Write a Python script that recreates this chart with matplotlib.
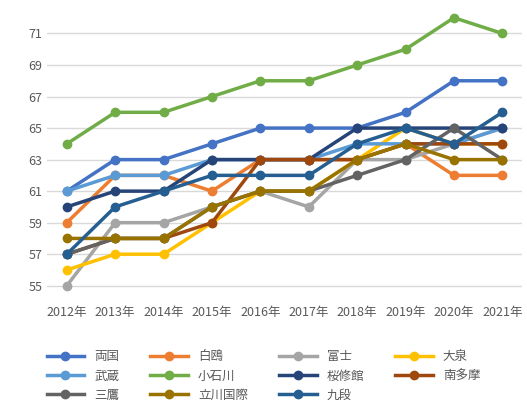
import matplotlib
matplotlib.use("Agg")
import matplotlib.pyplot as plt

plt.rcParams['font.family'] = ['Noto Sans CJK JP', 'DejaVu Sans']

years = ["2012年","2013年","2014年","2015年","2016年","2017年","2018年","2019年","2020年","2021年"]
names = ["両国","白鴎","富士","大泉","武蔵","小石川","桜修館","南多摩","三鷹","立川国際","九段"]
colors = ["#4472C4","#ED7D31","#A5A5A5","#FFC000","#5B9BD5","#70AD47","#264478","#9E480E","#636363","#997300","#255E91"]
ryogoku   = [61,63,63,64,65,65,65,66,68,68]
hakuo     = [59,62,62,61,63,63,63,64,62,62]
fuji      = [55,59,59,60,61,60,63,63,64,65]
oizumi    = [56,57,57,59,61,61,63,65,64,64]
musashi   = [61,62,62,63,63,63,64,64,64,65]
koishikawa= [64,66,66,67,68,68,69,70,72,71]
oshukan   = [60,61,61,63,63,63,65,65,65,65]
minamitama= [57,58,58,59,63,63,63,64,64,64]
mitaka    = [57,58,58,60,61,61,62,63,65,63]
tachikawa = [58,58,58,60,61,61,63,64,63,63]
kudan     = [57,60,61,62,62,62,64,65,64,66]
series = [ryogoku,hakuo,fuji,oizumi,musashi,koishikawa,oshukan,minamitama,mitaka,tachikawa,kudan]

fig = plt.figure(figsize=(5.27,4.13), dpi=100)
ax = fig.add_axes([0.09,0.27,0.9,0.71])
x = range(len(years))
handles = []
for n,c,s in zip(names,colors,series):
    h, = ax.plot(x, s, color=c, lw=2.5, marker='o', ms=6, label=n)
    handles.append(h)
ax.set_ylim(54, 72.6)
ax.set_yticks(range(55,72,2))
ax.set_xticks(list(x))
ax.set_xticklabels(years)
ax.set_xlim(-0.4, 9.4)
ax.tick_params(length=0, labelsize=9, colors='#595959')
ax.grid(axis='y', color='#D9D9D9', lw=1)
ax.set_axisbelow(True)
for sp in ax.spines.values():
    sp.set_visible(False)
ncol = 4
order = [i for c in range(ncol) for i in range(c, len(handles), ncol)]
fig.legend([handles[i] for i in order], [names[i] for i in order],
           loc='lower center', bbox_to_anchor=(0.5,0.0), ncol=ncol, frameon=False,
           fontsize=9, handlelength=3, columnspacing=2.5, labelcolor='#595959')
fig.savefig("out.png", dpi=100)
